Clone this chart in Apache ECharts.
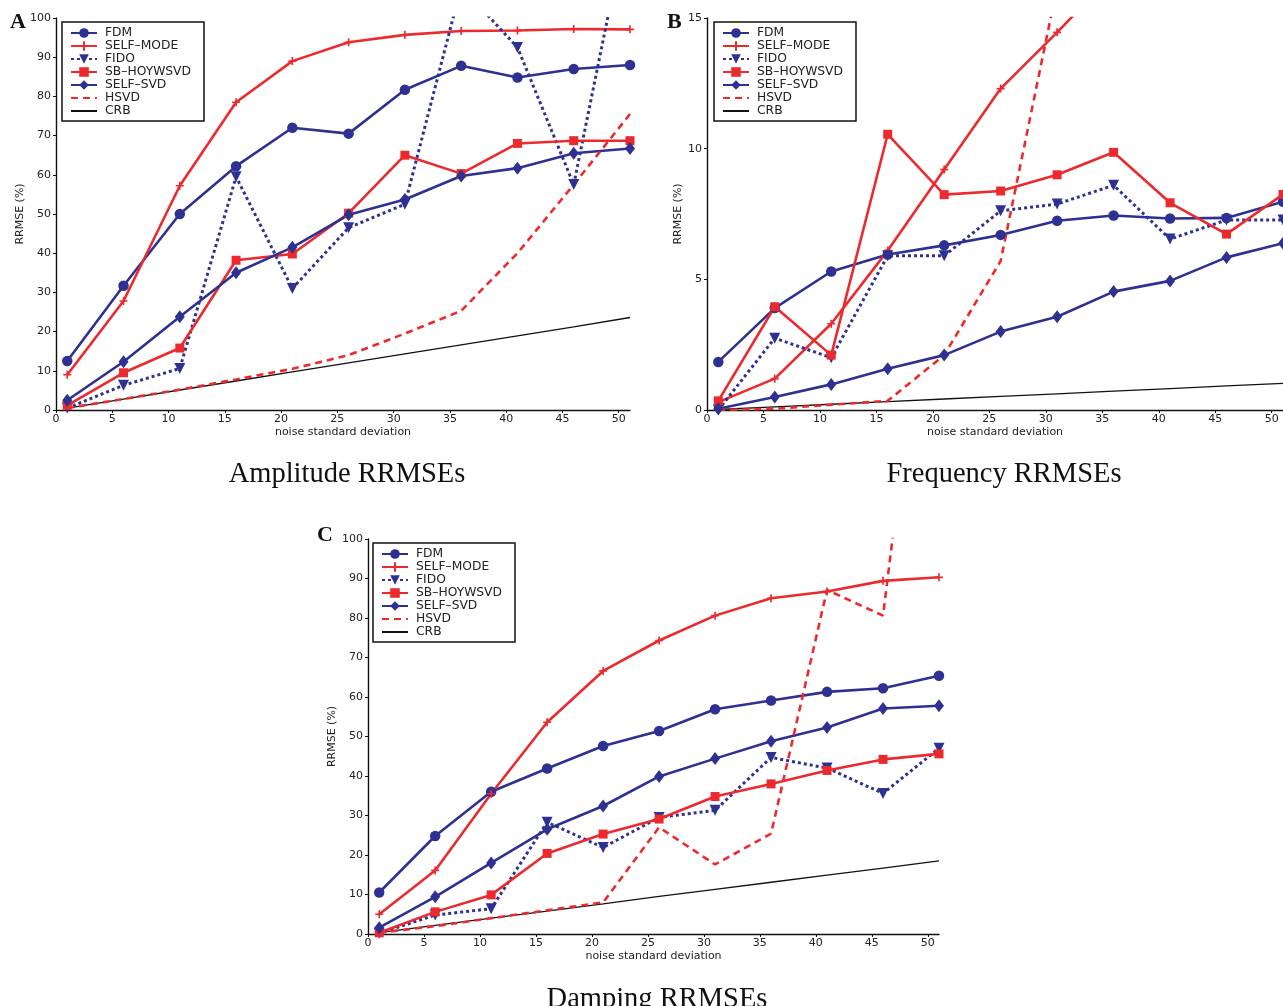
<!DOCTYPE html>
<html>
<head>
<meta charset="utf-8">
<script src="https://cdn.jsdelivr.net/npm/echarts@6/dist/echarts.min.js"></script>
<style>
  html, body { margin: 0; padding: 0; background: #fff; }
  #chart { width: 1283px; height: 1006px; }
</style>
</head>
<body>
<div id="chart"></div>
<script>
// noise standard deviation levels (x)
const noise = [1, 6, 11, 16, 21, 26, 31, 36, 41, 46, 51];
const names = ['FDM', 'SELF\u2013MODE', 'FIDO', 'SB\u2013HOYWSVD', 'SELF\u2013SVD', 'HSVD', 'CRB'];

// A: amplitude RRMSE (%)
const ampFDM    = [12.5, 31.7, 50.0, 62.2, 72.0, 70.5, 81.7, 87.8, 84.8, 87.0, 88.0];
const ampSMode  = [9.0, 27.8, 57.2, 78.5, 89.0, 93.8, 95.7, 96.7, 96.8, 97.2, 97.1];
const ampFIDO   = [0.5, 6.3, 10.6, 59.5, 31.0, 46.5, 52.5, 108, 92.5, 57.5, 128];
const ampSB     = [1.2, 9.5, 15.8, 38.2, 39.8, 50.2, 65.0, 60.3, 68.0, 68.7, 68.7];
const ampSSVD   = [2.5, 12.3, 23.8, 35.0, 41.5, 49.8, 53.7, 59.7, 61.7, 65.5, 66.7];
const ampHSVD   = [0.5, 2.8, 5.2, 7.8, 10.5, 14.0, 19.5, 25.3, 40.0, 57.5, 75.5];
const ampCRB    = [0.46, 2.8, 5.1, 7.4, 9.7, 12.0, 14.3, 16.6, 18.9, 21.2, 23.6];

// B: frequency RRMSE (%)
const frqFDM    = [1.84, 3.9, 5.3, 5.95, 6.3, 6.7, 7.24, 7.44, 7.33, 7.35, 7.97];
const frqSMode  = [0.3, 1.2, 3.3, 6.1, 9.2, 12.3, 14.45, 16.7, null, null, null];
const frqFIDO   = [0.0, 2.75, 2.0, 5.9, 5.9, 7.62, 7.88, 8.6, 6.54, 7.27, 7.27];
const frqSB     = [0.35, 3.95, 2.1, 10.55, 8.24, 8.38, 9.0, 9.86, 7.93, 6.73, 8.25];
const frqSSVD   = [0.05, 0.5, 0.98, 1.58, 2.1, 3.0, 3.57, 4.53, 4.94, 5.84, 6.38];
const frqHSVD   = [0.0, 0.05, 0.2, 0.35, 2.1, 5.7, 16.2, null, null, null, null];
const frqCRB    = [0.02, 0.12, 0.22, 0.32, 0.42, 0.52, 0.62, 0.72, 0.82, 0.92, 1.02];

// C: damping RRMSE (%)
const dmpFDM    = [10.5, 24.8, 36.0, 41.9, 47.6, 51.4, 56.9, 59.1, 61.3, 62.2, 65.4];
const dmpSMode  = [5.0, 16.1, 35.5, 53.6, 66.6, 74.3, 80.6, 85.0, 86.7, 89.4, 90.3];
const dmpFIDO   = [0.2, 4.8, 6.4, 28.3, 21.9, 29.5, 31.3, 44.7, 42.0, 35.6, 47.0];
const dmpSB     = [0.3, 5.6, 9.9, 20.4, 25.3, 29.1, 34.8, 38.0, 41.4, 44.2, 45.6];
const dmpSSVD   = [1.6, 9.4, 18.0, 26.5, 32.4, 39.9, 44.4, 48.8, 52.3, 57.1, 57.8];
const dmpHSVD   = [0.3, 2.0, 4.0, 6.0, 8.0, 27.0, 17.6, 25.4, 87.1, 80.6, 195];
const dmpCRB    = [0.36, 2.2, 4.0, 5.8, 7.6, 9.5, 11.3, 13.1, 14.9, 16.7, 18.5];

const BLUE = '#2e3192';
const RED = '#ec2a2e';
const plus = 'path://M3,0h1.6v3h3v1.6h-3v3h-1.6v-3h-3v-1.6h3z';
const SANS = 'DejaVu Sans';

const styles = [
  { color: BLUE, type: 'solid', width: 2.6, symbol: 'circle', size: 10.5 },
  { color: RED, type: 'solid', width: 2.6, symbol: plus, size: 8 },
  { color: BLUE, type: [3, 3], width: 3, symbol: 'triangle', size: 11, rotate: 180 },
  { color: RED, type: 'solid', width: 2.6, symbol: 'rect', size: 9 },
  { color: BLUE, type: 'solid', width: 2.6, symbol: 'diamond', size: [10, 13] },
  { color: RED, type: [7, 5], width: 2.6, symbol: 'none', size: 0 },
  { color: '#111', type: 'solid', width: 1.3, symbol: 'none', size: 0 }
];

const panels = [
  { data: [ampFDM, ampSMode, ampFIDO, ampSB, ampSSVD, ampHSVD, ampCRB], ymax: 100, step: 10, yGap: 30,
    grid: { left: 56, top: 18, right: 653, bottom: 596 }, legend: { left: 62, top: 22 },
    title: 'Amplitude RRMSEs', tx: 342, ty: 455, letter: 'A', lx: 5, ly: 6 },
  { data: [frqFDM, frqSMode, frqFIDO, frqSB, frqSSVD, frqHSVD, frqCRB], ymax: 15, step: 5, yGap: 22,
    grid: { left: 707, top: 18, right: -2, bottom: 596 }, legend: { left: 714, top: 22 },
    title: 'Frequency RRMSEs', tx: 999, ty: 455, letter: 'B', lx: 662, ly: 6 },
  { data: [dmpFDM, dmpSMode, dmpFIDO, dmpSB, dmpSSVD, dmpHSVD, dmpCRB], ymax: 100, step: 10, yGap: 29,
    grid: { left: 368, top: 539, right: 344, bottom: 72 }, legend: { left: 373, top: 543 },
    title: 'Damping RRMSEs', tx: 652, ty: 980, letter: 'C', lx: 312, ly: 519 }
];

const axisFont = { fontFamily: SANS, fontSize: 11, color: '#222' };
const axisLine = { show: true, lineStyle: { color: '#111', width: 1.4 } };

// legend entries; lines without markers get an invisible legend symbol
const legendData = names.map((n, k) =>
  styles[k].symbol === 'none' ? { name: n, itemStyle: { opacity: 0 } } : { name: n });

const grids = [], xAxes = [], yAxes = [], legends = [], titles = [], series = [];

panels.forEach((p, i) => {
  grids.push(p.grid);
  xAxes.push({
    type: 'value', gridIndex: i, min: 0, max: 51, interval: 5,
    name: 'noise standard deviation', nameLocation: 'middle', nameGap: 17,
    nameTextStyle: axisFont,
    axisLine: axisLine, axisTick: { show: true, length: 3, lineStyle: { color: '#111' } },
    axisLabel: Object.assign({ margin: 4 }, axisFont),
    splitLine: { show: false }
  });
  yAxes.push({
    type: 'value', gridIndex: i, min: 0, max: p.ymax, interval: p.step,
    name: 'RRMSE (%)', nameLocation: 'middle', nameGap: p.yGap,
    nameTextStyle: axisFont,
    axisLine: axisLine, axisTick: { show: true, length: 3, lineStyle: { color: '#111' } },
    axisLabel: Object.assign({ margin: 5 }, axisFont),
    splitLine: { show: false }
  });
  legends.push({
    left: p.legend.left, top: p.legend.top, orient: 'vertical',
    data: legendData, selectedMode: false,
    backgroundColor: '#fff', borderColor: '#111', borderWidth: 1.5, borderRadius: 0,
    padding: [5, 13, 4, 8], itemGap: 1, itemWidth: 26, itemHeight: 12,
    textStyle: { fontFamily: SANS, fontSize: 12.3, color: '#222', lineHeight: 12, padding: [0, 0, 0, 3] }
  });
  titles.push({
    text: p.title, left: p.tx, top: p.ty, textAlign: 'center',
    textStyle: { fontFamily: 'Liberation Serif', fontSize: 28.5, fontWeight: 'normal', color: '#111' }
  });
  titles.push({
    text: p.letter, left: p.lx, top: p.ly,
    textStyle: { fontFamily: 'Liberation Serif', fontSize: 22, fontWeight: 'bold', color: '#111' }
  });
  p.data.forEach((vals, k) => {
    const s = styles[k];
    series.push({
      name: names[k], type: 'line', xAxisIndex: i, yAxisIndex: i,
      data: noise.map((x, j) => [x, vals[j]]),
      clip: true, connectNulls: false, silent: true, animation: false,
      symbol: s.symbol, symbolSize: s.size, symbolRotate: s.rotate || 0,
      showSymbol: s.symbol !== 'none',
      itemStyle: { color: s.color },
      lineStyle: { color: s.color, width: s.width, type: s.type, cap: 'butt' },
      z: k === 6 ? 1 : 2
    });
  });
});

const chart = echarts.init(document.getElementById('chart'), null, { renderer: 'canvas' });
chart.setOption({
  backgroundColor: '#fff',
  animation: false,
  title: titles,
  grid: grids,
  xAxis: xAxes,
  yAxis: yAxes,
  legend: legends,
  series: series
});
</script>
</body>
</html>
